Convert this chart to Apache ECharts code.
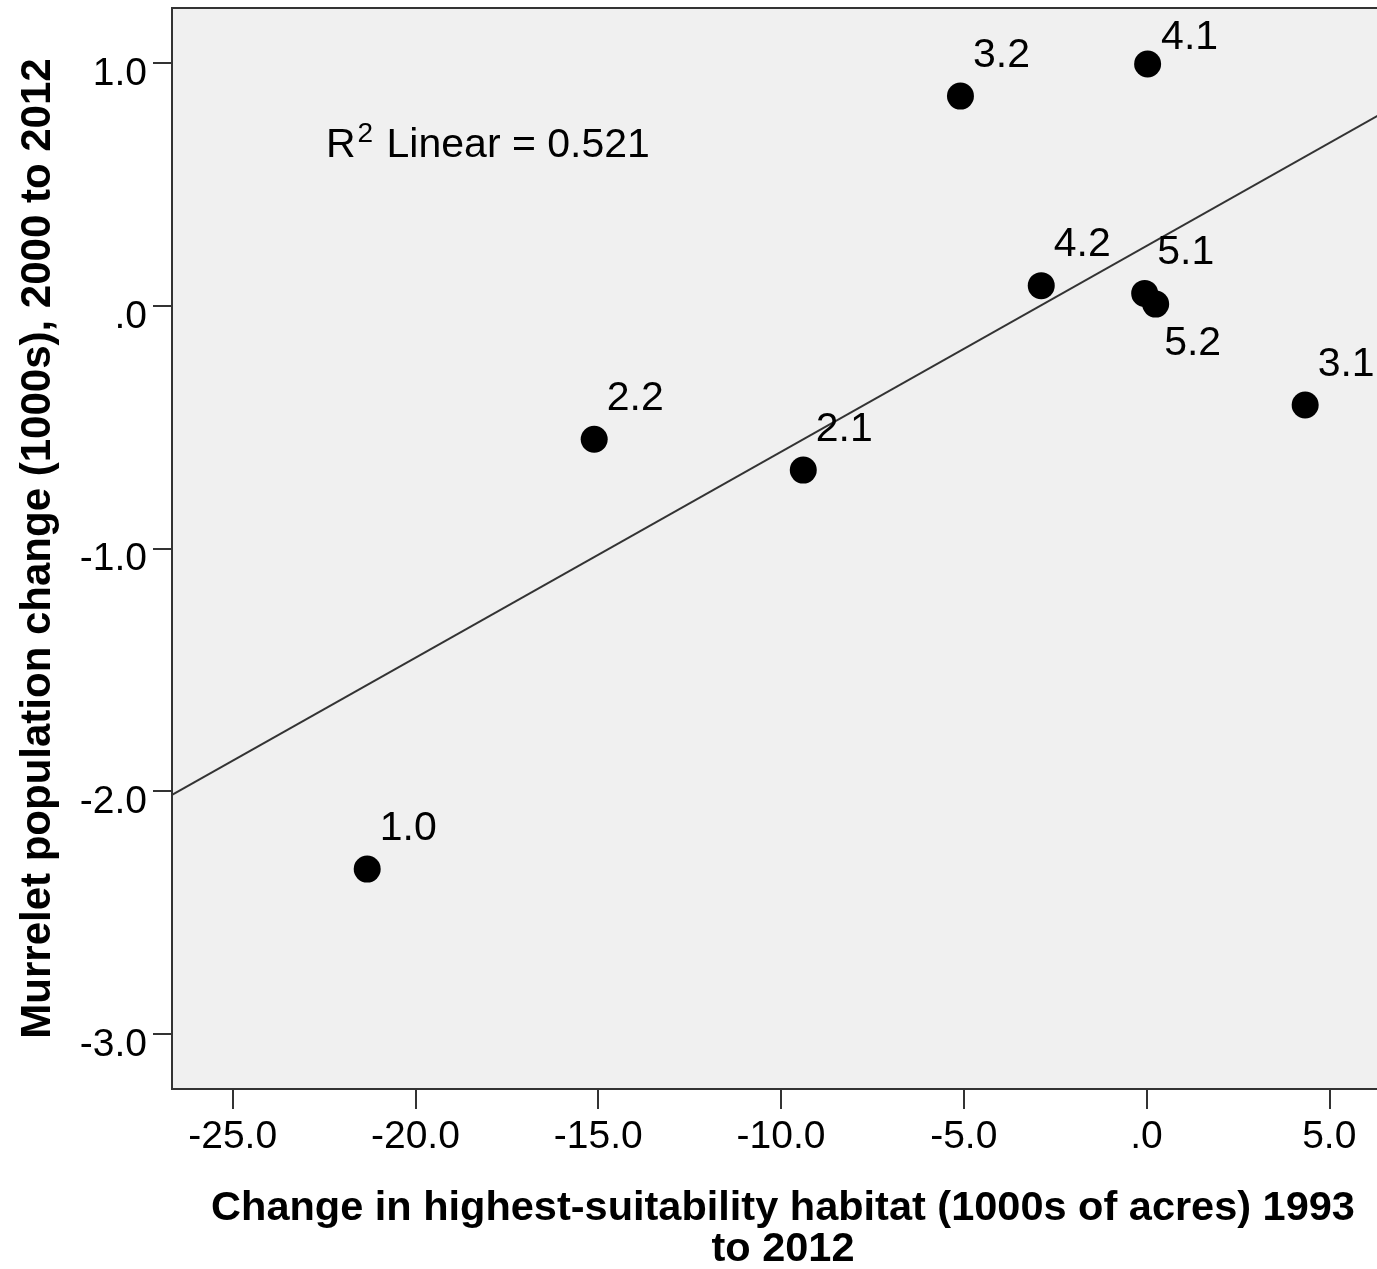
<!DOCTYPE html>
<html>
<head>
<meta charset="utf-8">
<script src="https://cdn.jsdelivr.net/npm/echarts@6/dist/echarts.min.js"></script>
<style>
  html, body { margin: 0; padding: 0; background: #ffffff; }
  #chart { width: 1377px; height: 1269px; }
</style>
</head>
<body>
<div id="chart"></div>
<script>
// ---- data ----
const pointLabels = ['1.0', '2.2', '2.1', '3.2', '3.1', '4.1', '4.2', '5.1', '5.2'];
const habitatChange = [-21.32, -15.11, -9.39, -5.09, 4.34, 0.03, -2.88, -0.05, 0.25];
const populationChange = [-2.321, -0.550, -0.677, 0.864, -0.409, 0.996, 0.083, 0.051, 0.007];
const xTickValues = [-25, -20, -15, -10, -5, 0, 5];
const yTickValues = [-3, -2, -1, 0, 1];
const xExtent = [-26.66, 6.36];
const yExtent = [-3.227, 1.227];
const fitText = 'R² Linear = 0.521';
const xTitle = 'Change in highest-suitability habitat (1000s of acres) 1993\nto 2012';
const yTitle = 'Murrelet population change (1000s), 2000 to 2012';

// ---- least-squares fit line ----
const n = habitatChange.length;
const mx = habitatChange.reduce((a, b) => a + b, 0) / n;
const my = populationChange.reduce((a, b) => a + b, 0) / n;
let sxy = 0, sxx = 0;
for (let i = 0; i < n; i++) {
  sxy += (habitatChange[i] - mx) * (populationChange[i] - my);
  sxx += (habitatChange[i] - mx) * (habitatChange[i] - mx);
}
const slope = sxy / sxx;
const intercept = my - slope * mx;
const fitLine = xExtent.map(x => [x, intercept + slope * x]);

const FONT = '"Liberation Sans", Arial, sans-serif';
const fmt = v => {
  let s = Number(v).toFixed(1);
  if (s === '0.0' || s === '-0.0') return '.0';
  return s;
};

const labelTweaks = {
  '4.1': { position: [27, -13] },
  '5.2': { position: [22, 53] }
};

const scatterData = habitatChange.map((x, i) => {
  const item = { name: pointLabels[i], value: [x, populationChange[i]] };
  if (labelTweaks[pointLabels[i]]) item.label = labelTweaks[pointLabels[i]];
  return item;
});

const fitParts = fitText.split('²');

const chart = echarts.init(document.getElementById('chart'), null, { renderer: 'canvas' });
chart.setOption({
  animation: false,
  backgroundColor: '#ffffff',
  grid: {
    left: 172, right: -2, top: 8, bottom: 180,
    show: true,
    backgroundColor: '#f0f0f0',
    borderColor: '#333333',
    borderWidth: 2,
    outerBoundsMode: 'none',
    containLabel: false
  },
  xAxis: {
    type: 'value',
    min: xExtent[0],
    max: xExtent[1],
    splitLine: { show: false },
    axisLine: { show: true, onZero: false, lineStyle: { color: '#333333', width: 2 } },
    axisTick: { show: true, customValues: xTickValues, length: 20, lineStyle: { color: '#333333', width: 2 } },
    axisLabel: {
      customValues: xTickValues,
      formatter: fmt,
      color: '#000000',
      fontFamily: FONT,
      fontSize: 39,
      margin: 29
    },
    name: xTitle,
    nameLocation: 'middle',
    nameGap: 99,
    nameTextStyle: {
      fontFamily: FONT,
      fontSize: 41.5,
      fontWeight: 'bold',
      color: '#000000',
      lineHeight: 41,
      align: 'center',
      verticalAlign: 'top',
      padding: [0, 0, 0, 15]
    }
  },
  yAxis: {
    type: 'value',
    min: yExtent[0],
    max: yExtent[1],
    splitLine: { show: false },
    axisLine: { show: true, onZero: false, lineStyle: { color: '#333333', width: 2 } },
    axisTick: { show: true, customValues: yTickValues, length: 19, lineStyle: { color: '#333333', width: 2 } },
    axisLabel: {
      customValues: yTickValues,
      formatter: v => '{v|' + fmt(v) + '}',
      rich: {
        v: {
          color: '#000000',
          fontFamily: FONT,
          fontSize: 39,
          padding: [22, 0, 0, 0]
        }
      },
      margin: 25
    },
    name: yTitle,
    nameLocation: 'middle',
    nameGap: 113,
    nameTextStyle: {
      fontFamily: FONT,
      fontSize: 42,
      fontWeight: 'bold',
      color: '#000000'
    }
  },
  series: [
    {
      type: 'line',
      data: fitLine,
      showSymbol: false,
      symbol: 'none',
      silent: true,
      lineStyle: { color: '#333333', width: 2 },
      z: 2
    },
    {
      type: 'scatter',
      data: scatterData,
      symbol: 'circle',
      symbolSize: 27,
      itemStyle: { color: '#000000', opacity: 1 },
      label: {
        show: true,
        formatter: p => p.name,
        position: [26, -27],
        align: 'left',
        verticalAlign: 'middle',
        fontFamily: FONT,
        fontSize: 41,
        color: '#000000'
      },
      z: 3
    }
  ],
  graphic: [
    {
      type: 'text',
      left: 326,
      top: 120,
      z: 10,
      style: {
        text: '{r|' + fitParts[0] + '}{s|2}{t|' + fitParts[1] + '}',
        rich: {
          r: { fontFamily: FONT, fontSize: 41, fill: '#000000', color: '#000000', padding: [10, 0, 0, 0] },
          s: { fontFamily: FONT, fontSize: 28, fill: '#000000', color: '#000000', padding: [0, 0, 14, 2] },
          t: { fontFamily: FONT, fontSize: 41, fill: '#000000', color: '#000000', padding: [10, 0, 0, 2] }
        }
      }
    }
  ]
});
</script>
</body>
</html>
